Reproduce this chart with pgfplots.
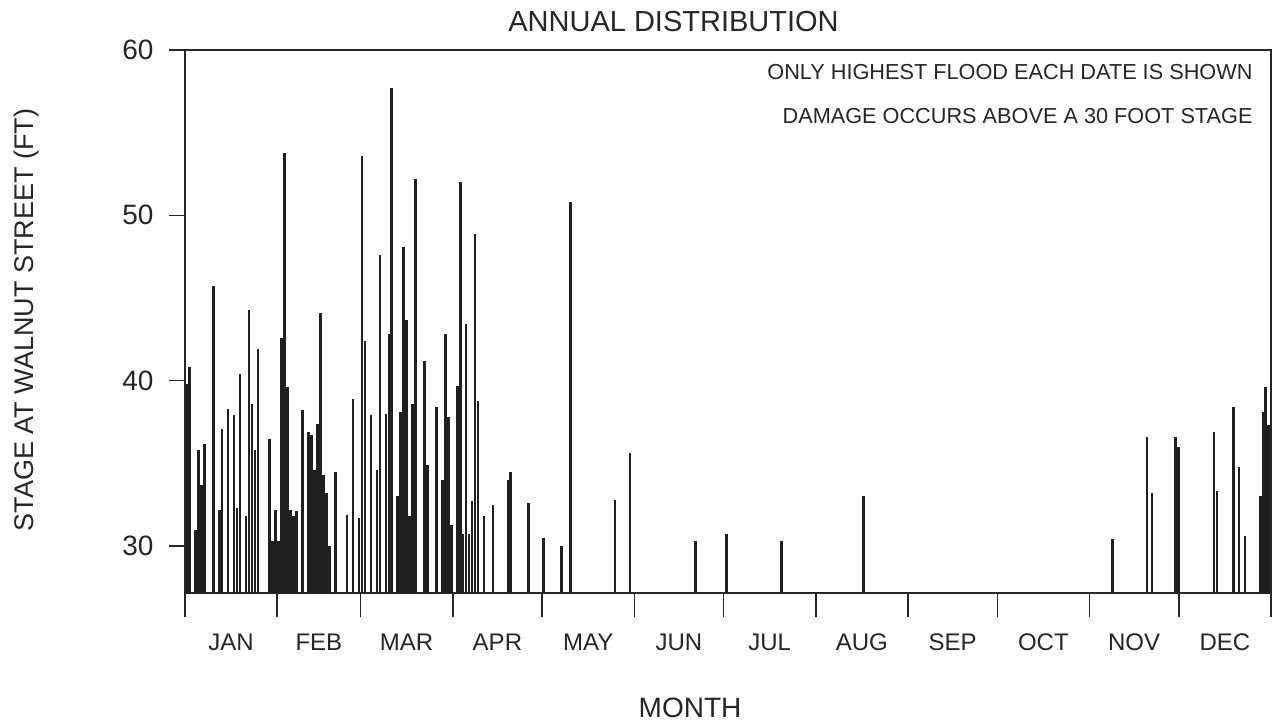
\documentclass[border=0pt]{standalone}
\usepackage{fontspec}
\setmainfont{Liberation Sans}
\usepackage{pgfplots}
\usepackage{pgfplotstable}
\pgfplotsset{compat=1.18}
\pgfplotstableread{
x y
0.5 39.8
1.5 40.8
3.5 31.0
4.5 35.8
5.5 33.7
6.5 36.2
9.5 45.7
11.5 32.2
12.5 37.1
14.5 38.3
16.5 37.9
17.5 32.3
18.5 40.4
20.5 31.8
21.5 44.3
22.5 38.6
23.5 35.8
24.5 41.9
28.5 36.5
29.5 30.3
30.5 32.2
31.5 30.3
32.5 42.6
33.5 53.8
34.5 39.6
35.5 32.2
36.5 31.8
37.5 32.1
39.5 38.2
41.5 36.9
42.5 36.7
43.5 34.6
44.5 37.4
45.5 44.1
46.5 34.3
47.5 33.2
48.5 30.0
50.5 34.5
54.5 31.9
56.5 38.9
58.5 31.7
59.5 53.6
60.5 42.4
62.5 37.9
64.5 34.6
65.5 47.6
67.5 38.0
68.5 42.8
69.5 57.7
71.5 33.0
72.5 38.1
73.5 48.1
74.5 43.7
75.5 31.8
76.5 38.6
77.5 52.2
80.5 41.2
81.5 34.9
84.5 38.4
86.5 34.0
87.5 42.8
88.5 37.8
89.5 31.3
91.5 39.7
92.5 52.0
93.5 30.7
94.5 43.4
95.5 30.7
96.5 32.7
97.5 48.9
98.5 38.8
100.5 31.8
103.5 32.5
108.5 34.0
109.5 34.5
115.5 32.6
120.5 30.5
126.5 30.0
129.5 50.8
144.5 32.8
149.5 35.6
171.5 30.3
182.0 30.7
200.5 30.3
228.0 33.0
311.7 30.4
323.3 36.6
325.0 33.2
333.0 36.6
334.0 36.0
345.9 36.9
346.9 33.3
352.3 38.4
354.3 34.8
356.2 30.6
361.5 33.0
362.4 38.1
363.2 39.6
364.1 37.3
}\floods
\begin{document}
\begin{tikzpicture}
\useasboundingbox (-185pt,-130pt) rectangle (1092pt,593pt);
\begin{axis}[
  at={(0pt,0pt)}, anchor=south west,
  scale only axis, width=1086pt, height=543pt,
  xmin=0, xmax=365, ymin=27.16, ymax=60,
  axis line style={line width=1.5pt, black!85},
  tick align=outside,
  xtick pos=bottom, ytick pos=left,
  major tick length=16pt,
  every tick/.style={line width=1.5pt, black!85},
  ytick={30,40,50,60},
  yticklabel style={font=\fontsize{28}{30}\selectfont, text=black!85, xshift=-12pt, /pgf/number format/assume math mode=true},
  xtick={0,31,59,90,120,151,181,212,243,273,304,334,365},
  xticklabels={},
  xtick style={/pgfplots/major tick length=24pt},
  extra x ticks={15.5,45,74.5,105,135.5,166,196.5,227.5,258,288.5,319,349.5},
  extra x tick labels={JAN,FEB,MAR,APR,MAY,JUN,JUL,AUG,SEP,OCT,NOV,DEC},
  extra x tick style={/pgfplots/major tick length=0pt, tick style={draw=none},
    xticklabel style={font=\fontsize{24}{26}\selectfont, text=black!85, anchor=base, yshift=-57pt}},
]
\addplot[ycomb, line width=2.6pt, black!88, mark=none] table[x=x,y=y] {\floods};
\end{axis}
\node[anchor=base, font=\fontsize{29}{31}\selectfont, text=black!85] at (488.5pt,561pt) {ANNUAL DISTRIBUTION};
\node[anchor=base, rotate=90, font=\fontsize{27}{29}\selectfont, text=black!85] at (-151pt,273pt) {STAGE AT WALNUT STREET (FT)};
\node[anchor=base, font=\fontsize{28}{30}\selectfont, text=black!85] at (505pt,-124pt) {MONTH};
\node[anchor=base east, font=\fontsize{21.7}{23}\selectfont, text=black!85] at (1071pt,513pt) {ONLY HIGHEST FLOOD EACH DATE IS SHOWN};
\node[anchor=base east, font=\fontsize{21.7}{23}\selectfont, text=black!85] at (1071pt,469pt) {DAMAGE OCCURS ABOVE A 30 FOOT STAGE};
\end{tikzpicture}
\end{document}
